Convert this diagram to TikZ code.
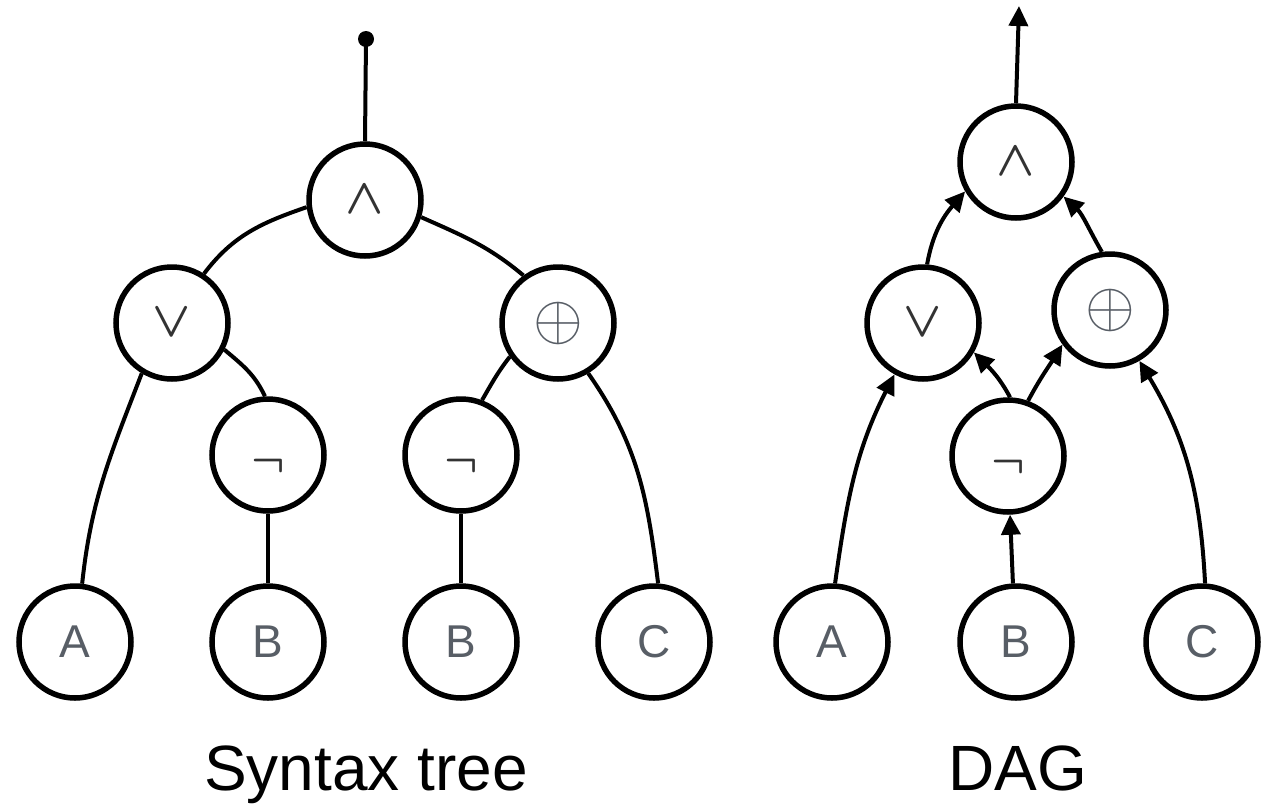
\documentclass[tikz,border=0pt]{standalone}
\usepackage{graphicx}
\usepackage{fontspec}
\setmainfont{Liberation Sans}
\usetikzlibrary{arrows.meta,shadows}
\definecolor{lettergray}{RGB}{88,94,102}
\newcommand{\opsym}[2]{\scalebox{#1}{\mathversion{bold}$#2$}}
\newcommand{\opsymlight}[2]{\scalebox{#1}{$#2$}}
\newcommand{\negsym}{\raisebox{-11pt}[\height][\depth]{\opsym{4.4}{\neg}}}
\begin{document}
\begin{tikzpicture}[x=1pt,y=-1pt,
  gnode/.style={circle,draw=black,line width=5.5pt,fill=white,minimum size=112pt,inner sep=0pt,
    drop shadow={opacity=0.12,shadow xshift=0pt,shadow yshift=-3pt}},
  letter/.style={gnode,font=\fontsize{46}{46}\selectfont,text=lettergray},
  opnode/.style={gnode,text=black!80},
  xornode/.style={gnode,text=lettergray},
  edge/.style={line width=4pt},
  arr/.style={line width=4pt,-{Triangle[length=20pt,width=19pt]}},
  caption/.style={anchor=base,font=\fontsize{64}{64}\selectfont}
]
\fill[white] (0,0) rectangle (1269,809);
\useasboundingbox (0,0) rectangle (1269,809);

% ---- Syntax tree ----
\node[circle,fill=black,minimum size=16pt,inner sep=0pt] (dot) at (366,39) {};
\node[opnode] (R) at (365,200) {\opsym{5}{\wedge}};
\node[opnode] (O) at (172,323) {\opsym{5}{\vee}};
\node[xornode] (X) at (558,323) {\opsymlight{6.4}{\oplus}};
\node[opnode] (N1) at (268,455) {\negsym};
\node[opnode] (N2) at (461,455) {\negsym};
\node[letter] (A) at (75,642) {A};
\node[letter] (B1) at (268,642) {B};
\node[letter] (B2) at (461,642) {B};
\node[letter] (C) at (654,642) {C};

\draw[edge] (dot.center) -- (R.north);
\draw[edge] (R.187) to[out=199,in=53] (O.57);
\draw[edge] (R.-17) to[out=-24,in=140] (X.126);
\draw[edge] (O.-27) to[out=-40,in=115] (N1.93);
\draw[edge] (O.239) to[out=249,in=84] (A.83);
\draw[edge] (X.215) to[out=232,in=60] (N2.69);
\draw[edge] (X.-59) to[out=-55,in=97] (C.86);
\draw[edge] (N1) -- (B1);
\draw[edge] (N2) -- (B2);

\node[caption] (cap1) at (366,790) {Syntax tree};

% ---- DAG ----
\coordinate (top) at (1019,6);
\node[opnode] (DR) at (1016,162) {\opsym{5}{\wedge}};
\node[opnode] (DO) at (923,323) {\opsym{5}{\vee}};
\node[xornode] (DX) at (1110,310) {\opsymlight{6.4}{\oplus}};
\node[opnode] (DN) at (1008,456) {\negsym};
\node[letter] (DA) at (832,642) {A};
\node[letter] (DB) at (1016,642) {B};
\node[letter] (DC) at (1202,642) {C};

\draw[arr] (DR.north) -- (top);
\draw[arr] (DO.86) to[out=80,in=229] (DR.210);
\draw[arr] (DX.98) to[out=120,in=-43] (DR.-36);
\draw[arr] (DN.88) to[out=118,in=-45] (DO.-30);
\draw[arr] (DN.70) to[out=62,in=238] (DX.216);
\draw[arr] (DA.87) to[out=82,in=243] (DO.241);
\draw[arr] (DB.93) -- (DN.-88);
\draw[arr] (DC.87) to[out=93,in=-59] (DX.-60);

\node[caption] (cap2) at (1018,790) {DAG};
\end{tikzpicture}
\end{document}
